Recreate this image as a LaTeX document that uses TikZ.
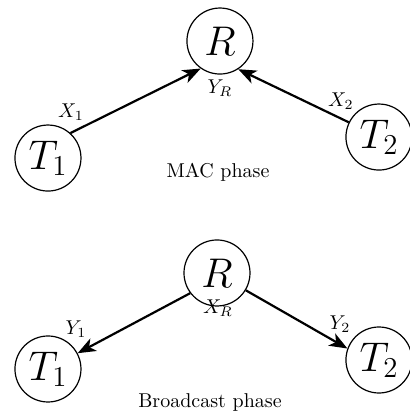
\documentclass[tikz,border=0pt]{standalone}
\usepackage{amsmath,amssymb}
\usepackage{tikz}
\usetikzlibrary{arrows.meta}

\begin{document}
\begin{tikzpicture}[
        term/.style={circle,draw,semithick,minimum size=33pt,inner sep=0pt,font=\fontsize{21}{24}\selectfont},
        link/.style={line width=1.1pt,-{Stealth[length=9pt,width=7pt,inset=2.5pt]}}
    ]
        \useasboundingbox (0,0) rectangle (7.19,7.31);

        % MAC phase
        \node[term] (Rm) at (3.865,6.589) {$R$};
        \node[term] (T1m) at (0.843,4.533) {$T_1$};
        \node[term] (T2m) at (6.659,4.902) {$T_2$};
        \draw[link] (T1m.48) -- (Rm.235);
        \draw[link] (T2m.154) -- (Rm.303);
        \node (X1) at (1.247,5.341) {$X_1$};
        \node (X2) at (5.991,5.535) {$X_2$};
        \node (YR) at (3.865,5.763) {$Y_R$};
        \node[anchor=base] (mac) at (3.830,4.199) {MAC phase};

        % Broadcast phase
        \node[term] (Rb) at (3.813,2.513) {$R$};
        \node[term] (T1b) at (0.843,0.826) {$T_1$};
        \node[term] (T2b) at (6.659,0.984) {$T_2$};
        \draw[link] (Rb.217) -- (T1b.28);
        \draw[link] (Rb.329) -- (T2b.160);
        \node (XR) at (3.830,1.898) {$X_R$};
        \node (Y1) at (1.335,1.529) {$Y_1$};
        \node (Y2) at (5.974,1.616) {$Y_2$};
        \node[anchor=base] (bc) at (3.690,0.141) {Broadcast phase};

    \end{tikzpicture}
\end{document}
